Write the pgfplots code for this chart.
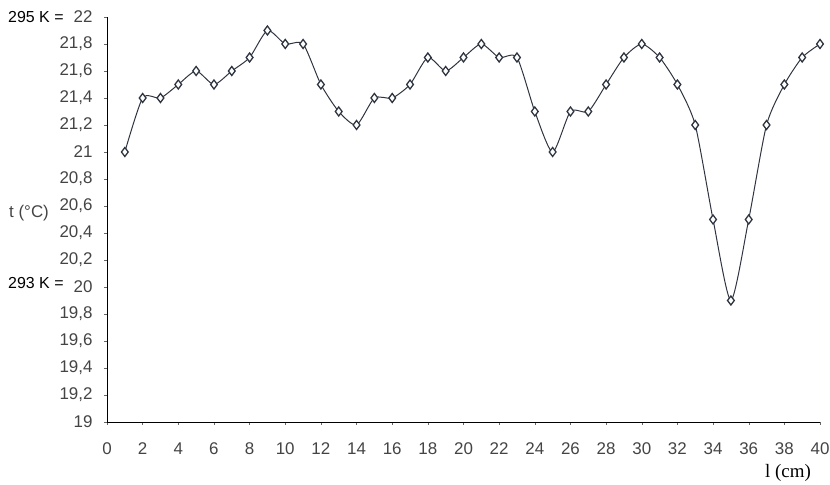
\documentclass[border=0pt]{standalone}
\usepackage{pgfplots}
\pgfplotsset{compat=1.18}
\usepackage{fontspec}
\setmainfont{Liberation Sans}
\newfontfamily\serif{Liberation Serif}
\definecolor{ticktxt}{HTML}{444444}
\definecolor{linec}{HTML}{2E3440}
\begin{document}
\begin{tikzpicture}[x=1bp,y=1bp]
\useasboundingbox (-107,-63) rectangle (723,422);
\begin{axis}[
  at={(0,0)}, anchor=origin, scale only axis,
  width=713bp, height=405bp,
  xmin=0, xmax=40, ymin=19, ymax=22,
  xtick={0,2,...,40},
  ytick={19,19.2,...,22.01},
  yticklabels={19,{19,2},{19,4},{19,6},{19,8},20,{20,2},{20,4},{20,6},{20,8},21,{21,2},{21,4},{21,6},{21,8},22},
  axis x line=bottom, axis y line=left,
  axis line style={black, line width=0.9pt, -},
  tick style={black!60, line width=0.4pt},
  major tick length=3bp,
  tick align=outside,
  /pgf/number format/assume math mode=true,
  ticklabel style={font=\fontsize{17}{19}\selectfont, text=ticktxt},
  xticklabel style={yshift=-14bp},
  yticklabel style={xshift=-8bp},
  clip=false,
]
\addplot[linec, line width=1pt, smooth, tension=0.4, mark=diamond*, mark size=4.5bp,
  mark options={fill=white, draw=linec, line width=1.3pt}] coordinates {
(1,21.0)(2,21.4)(3,21.4)(4,21.5)(5,21.6)(6,21.5)(7,21.6)(8,21.7)(9,21.9)(10,21.8)
(11,21.8)(12,21.5)(13,21.3)(14,21.2)(15,21.4)(16,21.4)(17,21.5)(18,21.7)(19,21.6)(20,21.7)
(21,21.8)(22,21.7)(23,21.7)(24,21.3)(25,21.0)(26,21.3)(27,21.3)(28,21.5)(29,21.7)(30,21.8)
(31,21.7)(32,21.5)(33,21.2)(34,20.5)(35,19.9)(36,20.5)(37,21.2)(38,21.5)(39,21.7)(40,21.8)
};
\end{axis}
\node[anchor=west, font=\fontsize{16}{18}\selectfont, inner sep=0pt] at (-99,405) {295 K =};
\node[anchor=west, font=\fontsize{16}{18}\selectfont, inner sep=0pt] at (-99,139) {293 K =};
\node[anchor=west, font=\fontsize{17}{19}\selectfont, text=ticktxt, inner sep=0pt] at (-98,209) {t (°C)};
\node[anchor=center, font=\serif\fontsize{19}{21}\selectfont] at (681,-51) {l (cm)};
\end{tikzpicture}
\end{document}
